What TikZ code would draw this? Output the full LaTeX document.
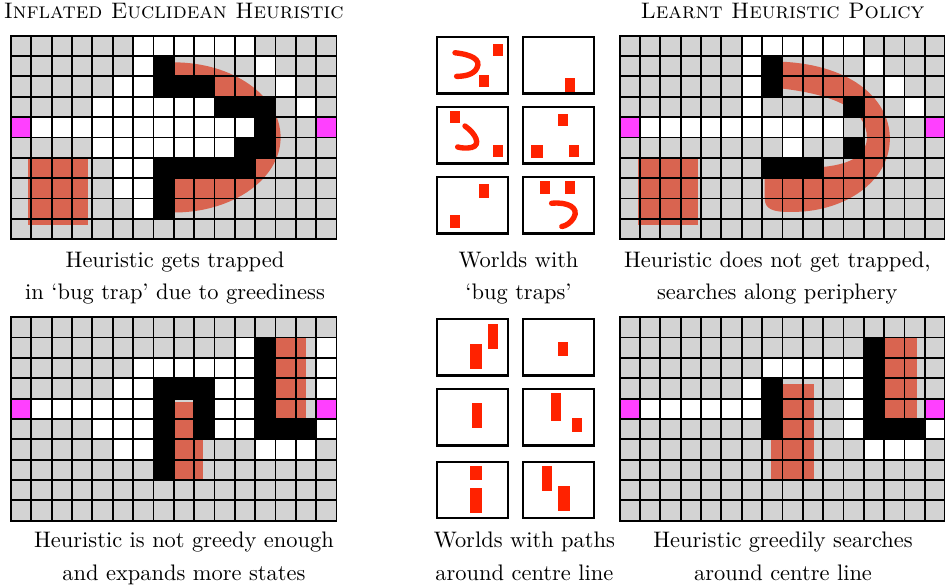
\documentclass[tikz,border=0pt]{standalone}
\usepackage{tikz}

\definecolor{cellgray}{RGB}{211,211,211}
\definecolor{heat}{RGB}{217,100,80}
\definecolor{goal}{RGB}{255,64,255}
\definecolor{obstacle}{RGB}{255,34,0}

\tikzset{
    gridline/.style={line width=0.8pt, black}, % lines between the cells
    region/.style={fill=heat}, % area the heuristic spends its time in
    world/.style={line width=1pt, fill=white}, % frame of a small training world
    block/.style={fill=obstacle}, % obstacle in a training world
    hook/.style={draw=obstacle, line width=2.4pt, line cap=round}, % bug trap in a training world
    heading/.style={font=\scshape, inner sep=0pt},
    legend/.style={align=center, inner sep=0pt, anchor=north, font=\linespread{1.19}\selectfont},
}

% runs of cells: first column / last column / row
\newcommand{\runs}[2]{\foreach \ca/\cb/\rw in {#2} \fill[#1] (\ca,\rw) rectangle (\cb+1,\rw+1);}
% the 16 x 10 cell lines
\newcommand{\celllines}{%
    \foreach \i in {0,...,16} \draw[gridline] (\i,0) -- (\i,10);
    \foreach \j in {0,...,10} \draw[gridline] (0,\j) -- (16,\j);
    \draw[gridline] (0,0) rectangle (16,10);}
% small world: left, top, contents
\newcommand{\worldbox}[3]{\begin{scope}[shift={(#1,#2)}]
    \draw[world] (0,0) rectangle (3.49,2.76);
    #3
\end{scope}}

\begin{document}
\begin{tikzpicture}[x=0.3186cm, y=-0.3186cm]
\useasboundingbox (0,0) rectangle (46.44,28.89);

% inflated euclidean heuristic, bug trap
\begin{scope}[shift={(0.54,1.754)}]
    \fill[cellgray] (0,0) rectangle (16,10);
    \fill[region] (8,1.31) arc[start angle=-90, end angle=90, x radius=5.25, y radius=3.69] -- cycle;
    \fill[region] (0.85,6.03) rectangle (3.8,9.28);
    \runs{white}{6/11/0, 6/6/1, 12/12/1, 5/6/2, 13/13/2, 4/9/3, 14/14/3, 1/11/4, 4/10/5, 5/6/6, 5/6/7, 6/6/8}
    \runs{black}{7/7/1, 7/9/2, 10/12/3, 12/12/4, 11/12/5, 7/11/6, 7/7/7, 7/7/8}
    \runs{goal}{0/0/4, 15/15/4}
    \celllines
\end{scope}

% learnt heuristic, bug trap
\begin{scope}[shift={(30.45,1.754)}]
    \fill[cellgray] (0,0) rectangle (16,10);
    \fill[region] (8,1.28) .. controls (11.5,1.45) and (13.3,3.2) .. (13.28,5.1)
        .. controls (13.25,7.2) and (11,8.7) .. (8.4,8.66)
        .. controls (7.5,8.68) and (7.13,8.5) .. (7.13,8.0) -- (7.13,6.6) -- (10,6.45)
        .. controls (11.5,6.3) and (12.15,5.8) .. (12.15,5.0)
        .. controls (12.15,3.6) and (10.5,2.9) .. (8,2.6) -- cycle;
    \fill[region] (0.9,6.03) rectangle (3.85,9.28);
    \runs{white}{6/11/0, 6/6/1, 12/12/1, 6/6/2, 13/13/2, 6/6/3, 14/14/3, 1/10/4, 8/8/5}
    \runs{black}{7/7/1, 7/7/2, 11/11/3, 11/11/5, 7/9/6}
    \runs{goal}{0/0/4, 15/15/4}
    \celllines
\end{scope}

% inflated euclidean heuristic, centre line
\begin{scope}[shift={(0.54,15.59)}]
    \fill[cellgray] (0,0) rectangle (16,10);
    \fill[region] (8.0,4.15) rectangle (9.46,8.0);
    \fill[region] (12.4,0.95) rectangle (14.5,5.0);
    \runs{white}{11/11/1, 15/15/1, 6/11/2, 15/15/2, 5/6/3, 10/11/3, 15/15/3, 1/6/4, 10/11/4, 4/6/5, 10/11/5, 15/15/5, 5/6/6, 12/14/6}
    \runs{black}{12/12/1, 12/12/2, 7/9/3, 12/12/3, 7/7/4, 9/9/4, 12/12/4, 7/7/5, 9/9/5, 12/14/5, 7/7/6, 7/7/7}
    \runs{goal}{0/0/4, 15/15/4}
    \celllines
\end{scope}

% learnt heuristic, centre line
\begin{scope}[shift={(30.45,15.59)}]
    \fill[cellgray] (0,0) rectangle (16,10);
    \fill[region] (7.43,3.28) rectangle (9.54,8.03);
    \fill[region] (12.38,0.95) rectangle (14.62,5.02);
    \runs{white}{7/11/2, 6/6/3, 11/11/3, 1/6/4, 11/11/4, 11/11/5, 15/15/5, 12/14/6}
    \runs{black}{12/12/1, 12/12/2, 7/7/3, 12/12/3, 7/7/4, 12/12/4, 7/7/5, 12/14/5}
    \runs{goal}{0/0/4, 15/15/4}
    \celllines
\end{scope}

% training worlds with bug traps
\worldbox{21.49}{1.833}{
    \fill[block] (2.75,0.33) rectangle (3.21,0.90);
    \fill[block] (2.05,1.85) rectangle (2.53,2.43);
    \draw[hook] (0.87,0.76) .. controls (1.7,0.85) and (2.15,1.1) .. (1.95,1.5) .. controls (1.8,1.85) and (1.3,1.92) .. (0.95,1.92);
}
\worldbox{25.69}{1.833}{
    \fill[block] (2.08,2.01) rectangle (2.57,2.67);
}
\worldbox{21.49}{5.273}{
    \fill[block] (0.62,0.18) rectangle (1.12,0.76);
    \fill[block] (2.75,1.85) rectangle (3.21,2.43);
    \draw[hook] (1.36,0.92) .. controls (1.9,1.3) and (2.15,1.85) .. (1.7,1.97) .. controls (1.45,2.03) and (1.15,2.0) .. (1.0,1.95);
}
\worldbox{25.69}{5.273}{
    \fill[block] (1.75,0.33) rectangle (2.21,0.90);
    \fill[block] (0.41,1.85) rectangle (0.98,2.51);
    \fill[block] (2.29,1.85) rectangle (2.75,2.43);
}
\worldbox{21.49}{8.71}{
    \fill[block] (2.05,0.33) rectangle (2.53,1.0);
    \fill[block] (0.62,1.85) rectangle (1.12,2.51);
}
\worldbox{25.69}{8.71}{
    \fill[block] (0.85,0.18) rectangle (1.34,0.84);
    \fill[block] (2.08,0.18) rectangle (2.57,0.84);
    \draw[hook] (1.42,1.28) .. controls (2.2,1.2) and (2.8,1.5) .. (2.5,2.0) .. controls (2.35,2.25) and (2.1,2.4) .. (1.92,2.42);
}

% training worlds with paths around the centre line
\worldbox{21.49}{15.69}{
    \fill[block] (1.61,1.21) rectangle (2.18,2.44);
    \fill[block] (2.51,0.23) rectangle (2.97,1.46);
}
\worldbox{25.69}{15.69}{
    \fill[block] (1.75,1.12) rectangle (2.21,1.80);
}
\worldbox{21.49}{19.13}{
    \fill[block] (1.72,0.67) rectangle (2.18,1.89);
}
\worldbox{25.69}{19.13}{
    \fill[block] (1.39,0.18) rectangle (1.87,1.54);
    \fill[block] (2.42,1.41) rectangle (2.90,2.08);
}
\worldbox{21.49}{22.69}{
    \fill[block] (1.61,0.21) rectangle (2.18,0.88);
    \fill[block] (1.61,1.29) rectangle (2.18,2.51);
}
\worldbox{25.69}{22.69}{
    \fill[block] (0.95,0.21) rectangle (1.43,1.43);
    \fill[block] (1.73,1.19) rectangle (2.31,2.41);
}

% headings
\node[heading, anchor=base] (title-euclid) at (8.54,0.9) {Inflated Euclidean Heuristic};
\node[heading, anchor=base] (title-learnt) at (38.45,0.9) {Learnt Heuristic Policy};

% captions
\node[legend] (cap-trap-euclid) at (8.6,12.36) {Heuristic gets trapped\\in `bug trap' due to greediness};
\node[legend] (cap-trap-worlds) at (25.48,12.36) {Worlds with\\`bug traps'};
\node[legend] (cap-trap-learnt) at (38.2,12.36) {Heuristic does not get trapped,\\searches along periphery};
\node[legend] (cap-line-euclid) at (9.04,26.14) {Heuristic is not greedy enough\\and expands more states};
\node[legend] (cap-line-worlds) at (25.77,26.14) {Worlds with paths\\around centre line};
\node[legend] (cap-line-learnt) at (38.48,26.14) {Heuristic greedily searches\\around centre line};
\end{tikzpicture}
\end{document}
